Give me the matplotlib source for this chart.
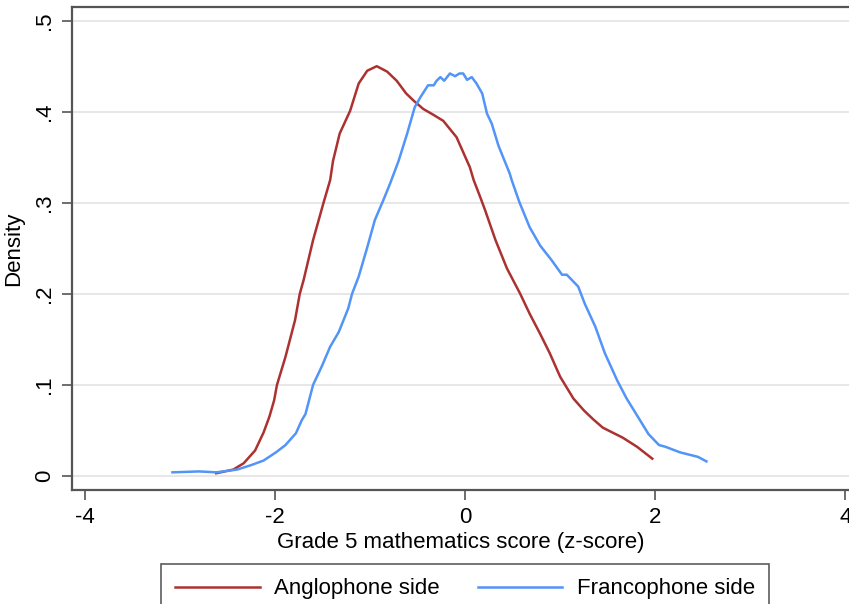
import matplotlib
matplotlib.use("Agg")
import matplotlib.pyplot as plt

plt.rcParams['font.family'] = ['Liberation Sans', 'DejaVu Sans']

# Anglophone side (kernel density)
anglo_x = [-2.62, -2.44, -2.33, -2.21, -2.12, -2.06, -2.01, -1.98, -1.89, -1.79,
           -1.74, -1.70, -1.60, -1.49, -1.42, -1.39, -1.32, -1.21, -1.12, -1.03,
           -0.93, -0.82, -0.72, -0.62, -0.54, -0.44, -0.34, -0.23, -0.09, 0.05,
           0.09, 0.16, 0.21, 0.32, 0.44, 0.58, 0.68, 0.79, 0.89, 1.00,
           1.14, 1.25, 1.35, 1.45, 1.66, 1.81, 1.97]
anglo_y = [0.003, 0.007, 0.014, 0.028, 0.048, 0.065, 0.083, 0.100, 0.131, 0.171,
           0.200, 0.215, 0.259, 0.300, 0.325, 0.346, 0.376, 0.401, 0.431, 0.445,
           0.450, 0.444, 0.434, 0.420, 0.412, 0.403, 0.397, 0.390, 0.372, 0.339,
           0.325, 0.306, 0.292, 0.259, 0.228, 0.200, 0.178, 0.156, 0.135, 0.109,
           0.085, 0.072, 0.062, 0.053, 0.042, 0.032, 0.019]

# Francophone side
franco_x = [-3.08, -2.80, -2.62, -2.40, -2.25, -2.12, -1.99, -1.89, -1.78, -1.72,
            -1.68, -1.60, -1.51, -1.42, -1.33, -1.23, -1.19, -1.12, -1.03, -0.95,
            -0.86, -0.79, -0.70, -0.61, -0.53, -0.47, -0.39, -0.33, -0.30, -0.26,
            -0.22, -0.16, -0.105, -0.06, -0.02, 0.02, 0.07, 0.12, 0.18, 0.23,
            0.28, 0.35, 0.40, 0.47, 0.49, 0.57, 0.68, 0.79, 0.91, 1.02,
            1.07, 1.19, 1.26, 1.37, 1.47, 1.60, 1.70, 1.83, 1.93, 2.04,
            2.11, 2.26, 2.45, 2.54]
franco_y = [0.004, 0.005, 0.004, 0.007, 0.012, 0.017, 0.026, 0.034, 0.047, 0.061,
            0.068, 0.100, 0.120, 0.142, 0.158, 0.184, 0.200, 0.219, 0.251, 0.281,
            0.303, 0.321, 0.346, 0.376, 0.405, 0.416, 0.429, 0.429, 0.434, 0.438,
            0.434, 0.442, 0.439, 0.442, 0.442, 0.435, 0.438, 0.431, 0.420, 0.398,
            0.387, 0.363, 0.350, 0.332, 0.325, 0.301, 0.273, 0.253, 0.237, 0.221,
            0.221, 0.208, 0.189, 0.164, 0.135, 0.105, 0.085, 0.063, 0.046, 0.034,
            0.032, 0.026, 0.021, 0.016]

series_labels = ["Anglophone side", "Francophone side"]
x_ticks = [-4, -2, 0, 2, 4]
x_ticklabels = ["-4", "-2", "0", "2", "4"]
y_ticks = [0, 0.1, 0.2, 0.3, 0.4, 0.5]
y_ticklabels = ["0", ".1", ".2", ".3", ".4", ".5"]

W, H = 849, 604
fig = plt.figure(figsize=(W / 100, H / 100), dpi=100)
left, right, top, bottom = 72, 849, 7, 490
ax = fig.add_axes([left / W, 1 - bottom / H, (right - left) / W, (bottom - top) / H])

red = '#ac3232'
blue = '#5294f7'
ax.plot(anglo_x, anglo_y, color=red, lw=1.8, label=series_labels[0])
ax.plot(franco_x, franco_y, color=blue, lw=1.8, label=series_labels[1])

ax.set_xlim(-4.137, 4.04)
ax.set_ylim(-0.0154, 0.515)
ax.set_xticks(x_ticks)
ax.set_xticklabels(x_ticklabels)
ax.set_yticks(y_ticks)
ax.set_yticklabels(y_ticklabels, rotation=90, va='center')
ax.grid(axis='y', color='#e3e3e3', lw=1.2)
ax.set_axisbelow(True)

for s in ['left', 'bottom', 'top']:
    ax.spines[s].set_color('#555555')
    ax.spines[s].set_linewidth(1.6)
ax.spines['right'].set_visible(False)
ax.tick_params(axis='both', direction='out', length=7, width=1.2, color='#555555',
               labelsize=16, labelcolor='black')
ax.tick_params(axis='x', pad=5)
ax.tick_params(axis='y', pad=5)

ax.set_xlabel("Grade 5 mathematics score (z-score)", fontsize=16, labelpad=3)
ax.set_ylabel("Density", fontsize=16, labelpad=7)

leg = fig.legend(loc='upper center', bbox_to_anchor=(465 / W, 1 - 564 / H), ncol=2,
                 fontsize=16, frameon=True, fancybox=False, handlelength=3.8,
                 columnspacing=1.7, borderpad=0.65, handletextpad=0.65,
                 borderaxespad=0)
leg.get_frame().set_edgecolor('#333333')
leg.get_frame().set_linewidth(1.2)

fig.savefig("out.png", dpi=100)
